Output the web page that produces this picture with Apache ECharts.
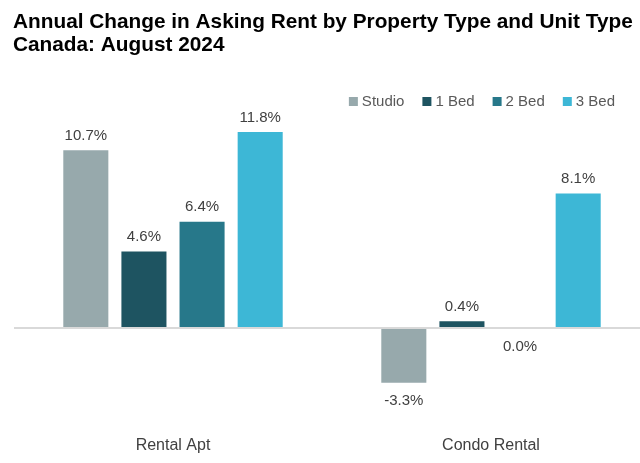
<!DOCTYPE html>
<html>
<head>
<meta charset="utf-8">
<script src="https://cdn.jsdelivr.net/npm/echarts@6/dist/echarts.min.js"></script>
<style>html,body{margin:0;padding:0;background:#fff;overflow:hidden}#c{width:650px;height:463px}</style>
</head>
<body>
<div id="c"></div>
<script>
var categories = ['Rental Apt', 'Condo Rental'];
var seriesNames = ['Studio', '1 Bed', '2 Bed', '3 Bed'];
var studio = [10.7, -3.3];
var oneBed = [4.6, 0.4];
var twoBed = [6.4, 0.0];
var threeBed = [11.8, 8.1];
var colors = ['#97a9ac', '#1e5461', '#27788a', '#3db7d6'];
var valuesList = [studio, oneBed, twoBed, threeBed];

var chart = echarts.init(document.getElementById('c'));
var font = 'Liberation Sans, Arial, sans-serif';
var series = valuesList.map(function (vals, i) {
  var s = {
    name: seriesNames[i],
    type: 'bar',
    barGap: '29%',
    barCategoryGap: '31%',
    itemStyle: { color: colors[i] },
    data: vals.map(function (v) {
      return {
        value: v,
        label: {
          show: true,
          position: v > 0 ? 'top' : 'bottom',
          distance: v > 0 ? 7 : 11,
          formatter: function (p) { return p.value.toFixed(1) + '%'; },
          color: '#404040',
          fontSize: 15,
          fontFamily: font
        }
      };
    })
  };
  if (i === 0) {
    s.markLine = {
      silent: true,
      symbol: 'none',
      label: { show: false },
      lineStyle: { color: '#d9d9d9', width: 2, type: 'solid' },
      data: [{ yAxis: 0 }]
    };
  }
  return s;
});

chart.setOption({
  animation: false,
  title: {
    text: 'Annual Change in Asking Rent by Property Type and Unit Type\nCanada: August 2024',
    left: 8,
    top: 6,
    textStyle: { fontFamily: font, fontWeight: 'bold', fontSize: 20.8, lineHeight: 23, color: '#000' }
  },
  legend: {
    right: 30,
    top: 89,
    itemWidth: 9,
    itemHeight: 9,
    itemGap: 18,
    icon: 'rect',
    textStyle: { fontFamily: font, fontSize: 15, color: '#595959', padding: [0, 0, 0, -1] },
    data: seriesNames
  },
  grid: { left: 14, right: 0, top: 112, height: 299 },
  xAxis: {
    type: 'category',
    data: categories,
    axisLine: { show: false, onZero: false },
    axisTick: { show: false },
    axisLabel: { margin: 27, fontFamily: font, fontSize: 16, color: '#404040' }
  },
  yAxis: {
    type: 'value',
    min: -5,
    max: 13,
    show: false,
    splitLine: { show: false }
  },
  series: series
});
</script>
</body>
</html>
